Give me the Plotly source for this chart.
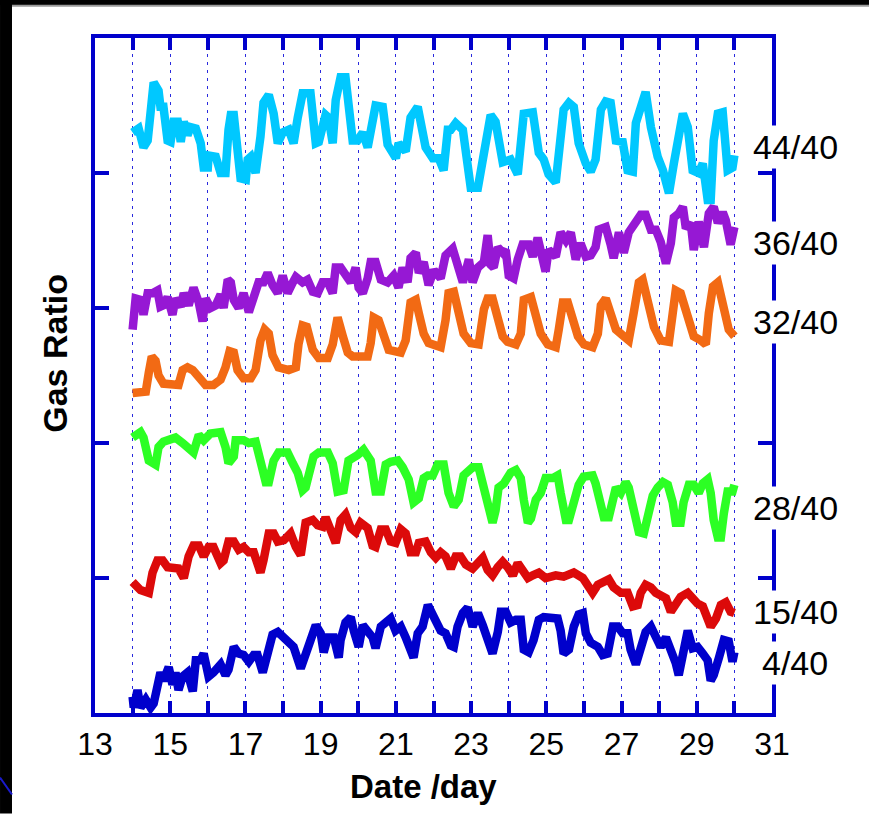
import plotly.graph_objects as go

# ---- data (day, gas ratio offset units) ----
cyan_44 = [(14.00,4.30),(14.16,4.33),(14.29,4.19),(14.40,4.24),(14.56,4.67),(14.69,4.61),(14.74,4.49),(14.82,4.49),(14.93,4.24),(15.01,4.23),(15.09,4.38),(15.20,4.38),(15.28,4.23),(15.36,4.38),(15.46,4.28),(15.54,4.34),(15.68,4.33),(15.81,4.22),(15.89,4.04),(16.00,4.04),(16.02,4.13),(16.21,4.12),(16.34,4.00),(16.47,4.00),(16.55,4.32),(16.61,4.43),(16.69,4.43),(16.79,4.12),(16.87,3.96),(17.01,3.95),(17.06,4.10),(17.14,4.12),(17.27,4.00),(17.40,4.27),(17.48,4.52),(17.62,4.58),(17.75,4.44),(17.86,4.22),(17.99,4.30),(18.15,4.32),(18.28,4.22),(18.39,4.41),(18.52,4.59),(18.73,4.59),(18.87,4.22),(18.95,4.23),(19.13,4.43),(19.21,4.41),(19.32,4.22),(19.40,4.54),(19.53,4.71),(19.66,4.71),(19.74,4.47),(19.85,4.24),(19.98,4.24),(20.12,4.30),(20.25,4.19),(20.38,4.41),(20.46,4.50),(20.65,4.49),(20.78,4.21),(21.00,4.11),(21.07,4.22),(21.26,4.16),(21.39,4.41),(21.58,4.49),(21.66,4.39),(21.79,4.19),(21.98,4.11),(22.14,4.11),(22.27,4.02),(22.38,4.32),(22.46,4.32),(22.59,4.37),(22.78,4.32),(22.91,4.04),(22.99,3.89),(23.18,3.89),(23.31,4.12),(23.52,4.43),(23.65,4.38),(23.84,4.08),(24.05,4.10),(24.24,3.99),(24.40,4.44),(24.64,4.45),(24.80,4.15),(24.93,4.10),(25.06,3.99),(25.25,3.93),(25.46,4.47),(25.60,4.52),(25.73,4.49),(25.86,4.22),(26.05,4.07),(26.18,4.01),(26.31,4.10),(26.45,4.47),(26.58,4.53),(26.71,4.52),(26.85,4.24),(27.03,4.23),(27.16,4.02),(27.30,4.01),(27.38,4.37),(27.51,4.47),(27.64,4.60),(27.78,4.34),(27.96,4.12),(28.10,4.02),(28.26,3.85),(28.39,4.07),(28.49,4.27),(28.63,4.44),(28.76,4.34),(28.89,4.02),(29.05,4.00),(29.16,4.07),(29.29,3.80),(29.37,3.80),(29.45,4.24),(29.56,4.44),(29.69,4.45),(29.82,4.02),(29.95,4.04),(30.00,4.13)]

purple_36 = [(14.00,2.84),(14.08,3.07),(14.21,3.06),(14.29,2.95),(14.40,3.11),(14.53,3.11),(14.66,3.13),(14.74,3.01),(14.82,3.02),(14.93,3.08),(15.06,2.95),(15.14,3.07),(15.28,3.01),(15.36,3.11),(15.49,3.02),(15.62,3.15),(15.76,3.04),(15.86,2.90),(15.94,3.07),(16.07,3.00),(16.21,3.02),(16.34,3.10),(16.42,3.00),(16.53,3.21),(16.61,3.19),(16.69,3.06),(16.82,3.00),(16.95,3.11),(17.09,2.97),(17.22,3.06),(17.35,3.19),(17.48,3.19),(17.59,3.26),(17.72,3.17),(17.86,3.11),(17.99,3.24),(18.12,3.11),(18.26,3.19),(18.34,3.23),(18.52,3.19),(18.65,3.21),(18.79,3.12),(18.92,3.11),(19.05,3.19),(19.19,3.19),(19.32,3.11),(19.40,3.30),(19.53,3.30),(19.72,3.23),(19.80,3.19),(19.93,3.30),(20.01,3.15),(20.12,3.11),(20.25,3.22),(20.33,3.34),(20.46,3.34),(20.60,3.21),(20.78,3.19),(20.94,3.24),(21.07,3.15),(21.18,3.30),(21.31,3.19),(21.39,3.37),(21.53,3.41),(21.61,3.26),(21.74,3.34),(21.87,3.17),(22.01,3.28),(22.19,3.22),(22.32,3.39),(22.51,3.44),(22.64,3.33),(22.78,3.19),(22.94,3.36),(23.04,3.19),(23.18,3.30),(23.34,3.34),(23.44,3.54),(23.52,3.32),(23.60,3.30),(23.71,3.45),(23.84,3.41),(23.92,3.43),(24.00,3.24),(24.13,3.22),(24.24,3.36),(24.37,3.47),(24.53,3.47),(24.64,3.38),(24.77,3.52),(24.85,3.39),(24.98,3.27),(25.06,3.43),(25.25,3.38),(25.38,3.56),(25.52,3.50),(25.65,3.56),(25.78,3.36),(25.91,3.48),(26.05,3.38),(26.18,3.39),(26.31,3.45),(26.39,3.58),(26.58,3.60),(26.71,3.47),(26.79,3.37),(26.93,3.56),(27.06,3.41),(27.19,3.56),(27.38,3.65),(27.51,3.69),(27.64,3.69),(27.78,3.58),(27.91,3.58),(28.04,3.49),(28.18,3.33),(28.31,3.48),(28.39,3.67),(28.52,3.70),(28.63,3.75),(28.71,3.59),(28.84,3.63),(28.92,3.43),(29.05,3.64),(29.19,3.45),(29.32,3.70),(29.45,3.75),(29.56,3.63),(29.69,3.71),(29.77,3.65),(29.90,3.47),(30.00,3.60)]

orange_32 = [(14.00,2.37),(14.35,2.38),(14.43,2.52),(14.51,2.64),(14.61,2.61),(14.69,2.50),(14.82,2.44),(15.01,2.43),(15.22,2.43),(15.33,2.54),(15.46,2.56),(15.60,2.54),(15.76,2.49),(15.94,2.43),(16.15,2.43),(16.34,2.47),(16.47,2.56),(16.58,2.68),(16.69,2.67),(16.79,2.54),(16.95,2.48),(17.14,2.48),(17.27,2.54),(17.40,2.76),(17.51,2.84),(17.62,2.81),(17.72,2.65),(17.88,2.56),(18.15,2.54),(18.34,2.56),(18.41,2.73),(18.52,2.87),(18.63,2.86),(18.79,2.69),(18.95,2.63),(19.19,2.63),(19.32,2.73),(19.45,2.93),(19.59,2.79),(19.72,2.67),(19.85,2.64),(20.25,2.64),(20.33,2.74),(20.41,2.93),(20.54,2.91),(20.68,2.79),(20.81,2.69),(21.13,2.67),(21.26,2.76),(21.39,3.04),(21.53,3.06),(21.61,2.96),(21.74,2.81),(21.87,2.74),(22.19,2.71),(22.32,2.91),(22.40,3.11),(22.54,3.12),(22.67,2.96),(22.80,2.81),(22.99,2.74),(23.20,2.73),(23.34,2.99),(23.44,3.07),(23.57,3.07),(23.71,2.93),(23.84,2.79),(23.97,2.75),(24.19,2.73),(24.32,2.81),(24.40,3.06),(24.59,3.08),(24.72,2.93),(24.85,2.81),(25.04,2.73),(25.25,2.71),(25.33,2.84),(25.44,3.04),(25.57,3.04),(25.70,2.91),(25.84,2.79),(26.00,2.73),(26.23,2.71),(26.37,2.81),(26.45,3.02),(26.58,3.07),(26.71,2.93),(26.85,2.84),(27.06,2.79),(27.19,2.76),(27.32,2.96),(27.46,3.19),(27.56,3.21),(27.70,3.06),(27.86,2.86),(28.04,2.76),(28.26,2.75),(28.36,2.96),(28.44,3.13),(28.57,3.11),(28.76,2.91),(28.92,2.79),(29.11,2.76),(29.24,2.73),(29.32,2.96),(29.43,3.16),(29.56,3.19),(29.69,3.01),(29.85,2.84),(30.00,2.79)]

green_28 = [(14.00,2.04),(14.21,2.08),(14.29,2.04),(14.43,1.87),(14.61,1.84),(14.69,1.97),(14.82,2.01),(15.01,2.02),(15.14,2.04),(15.33,2.00),(15.49,1.97),(15.62,1.93),(15.76,2.06),(15.89,2.02),(16.07,2.07),(16.34,2.08),(16.47,1.97),(16.55,1.85),(16.69,1.90),(16.74,2.02),(16.95,2.02),(17.09,2.00),(17.27,2.01),(17.40,1.87),(17.54,1.71),(17.62,1.71),(17.75,1.87),(17.88,1.93),(18.12,1.93),(18.26,1.85),(18.39,1.78),(18.52,1.65),(18.60,1.67),(18.68,1.76),(18.81,1.90),(18.95,1.93),(19.19,1.93),(19.32,1.85),(19.45,1.64),(19.61,1.65),(19.74,1.87),(19.98,1.91),(20.14,1.95),(20.33,1.87),(20.46,1.64),(20.60,1.64),(20.73,1.84),(20.86,1.86),(21.05,1.87),(21.18,1.82),(21.34,1.73),(21.47,1.56),(21.61,1.59),(21.74,1.74),(21.85,1.76),(21.98,1.76),(22.11,1.84),(22.27,1.84),(22.40,1.63),(22.54,1.53),(22.67,1.58),(22.80,1.76),(22.94,1.80),(23.04,1.82),(23.20,1.82),(23.34,1.67),(23.47,1.53),(23.57,1.41),(23.65,1.50),(23.73,1.67),(23.87,1.70),(24.05,1.78),(24.19,1.80),(24.32,1.74),(24.40,1.58),(24.51,1.41),(24.59,1.44),(24.72,1.58),(24.85,1.63),(24.98,1.74),(25.17,1.74),(25.30,1.76),(25.38,1.63),(25.52,1.43),(25.60,1.43),(25.73,1.58),(25.86,1.69),(25.99,1.75),(26.23,1.76),(26.31,1.70),(26.45,1.53),(26.53,1.45),(26.66,1.45),(26.77,1.63),(26.85,1.67),(26.98,1.63),(27.11,1.71),(27.19,1.67),(27.32,1.50),(27.46,1.34),(27.59,1.33),(27.70,1.45),(27.83,1.61),(27.96,1.67),(28.10,1.71),(28.23,1.69),(28.36,1.56),(28.44,1.41),(28.57,1.41),(28.65,1.56),(28.79,1.69),(28.92,1.69),(29.05,1.63),(29.16,1.70),(29.29,1.73),(29.37,1.63),(29.45,1.43),(29.56,1.30),(29.64,1.30),(29.72,1.48),(29.82,1.64),(29.95,1.64),(30.00,1.69)]

red_15 = [(14.00,0.97),(14.21,0.91),(14.43,0.89),(14.53,1.04),(14.66,1.13),(14.80,1.13),(14.93,1.08),(15.09,1.08),(15.22,1.07),(15.36,1.00),(15.49,1.16),(15.62,1.24),(15.76,1.24),(15.89,1.16),(16.02,1.23),(16.15,1.23),(16.34,1.11),(16.42,1.13),(16.55,1.27),(16.69,1.27),(16.82,1.21),(16.95,1.23),(17.09,1.19),(17.22,1.19),(17.40,1.04),(17.48,1.13),(17.62,1.33),(17.75,1.33),(17.86,1.27),(18.02,1.28),(18.20,1.33),(18.34,1.23),(18.47,1.17),(18.60,1.41),(18.79,1.43),(18.92,1.39),(19.05,1.38),(19.13,1.45),(19.27,1.33),(19.40,1.26),(19.53,1.43),(19.66,1.47),(19.80,1.37),(19.93,1.34),(20.06,1.41),(20.25,1.37),(20.38,1.24),(20.46,1.23),(20.60,1.36),(20.73,1.36),(20.86,1.27),(20.99,1.26),(21.13,1.36),(21.26,1.33),(21.39,1.19),(21.53,1.19),(21.61,1.26),(21.79,1.27),(21.93,1.19),(22.06,1.15),(22.19,1.19),(22.32,1.16),(22.46,1.07),(22.59,1.16),(22.72,1.16),(22.86,1.10),(23.04,1.07),(23.18,1.11),(23.31,1.15),(23.44,1.06),(23.57,1.02),(23.71,1.08),(23.84,1.12),(23.97,1.08),(24.11,1.02),(24.24,1.11),(24.37,1.06),(24.51,1.00),(24.64,1.02),(24.80,1.04),(24.98,1.00),(25.25,1.02),(25.46,1.01),(25.73,1.04),(25.97,1.00),(26.10,0.93),(26.23,0.89),(26.37,0.95),(26.50,0.97),(26.66,0.99),(26.79,0.93),(26.98,0.89),(27.16,0.89),(27.30,0.79),(27.43,0.80),(27.51,0.89),(27.64,0.95),(27.78,0.93),(27.91,0.89),(28.04,0.87),(28.18,0.85),(28.31,0.75),(28.44,0.81),(28.57,0.86),(28.76,0.89),(28.89,0.84),(29.02,0.81),(29.16,0.79),(29.29,0.71),(29.37,0.64),(29.51,0.70),(29.64,0.80),(29.77,0.82),(29.90,0.75),(30.00,0.74)]

blue_4 = [(14.00,0.12),(14.03,0.04),(14.13,0.17),(14.21,0.04),(14.35,0.10),(14.48,0.04),(14.56,0.07),(14.66,0.24),(14.74,0.30),(14.82,0.24),(14.96,0.34),(15.06,0.21),(15.14,0.30),(15.22,0.17),(15.33,0.27),(15.46,0.30),(15.60,0.16),(15.68,0.39),(15.81,0.39),(15.89,0.44),(16.02,0.27),(16.15,0.30),(16.34,0.36),(16.47,0.28),(16.55,0.32),(16.69,0.49),(16.82,0.44),(16.95,0.43),(17.09,0.38),(17.22,0.43),(17.32,0.43),(17.46,0.30),(17.59,0.44),(17.72,0.58),(17.86,0.60),(17.99,0.56),(18.12,0.54),(18.28,0.49),(18.47,0.33),(18.60,0.44),(18.73,0.56),(18.87,0.65),(19.00,0.59),(19.08,0.45),(19.19,0.56),(19.35,0.56),(19.48,0.41),(19.53,0.54),(19.66,0.67),(19.80,0.71),(19.88,0.61),(20.01,0.49),(20.12,0.65),(20.25,0.60),(20.38,0.56),(20.46,0.48),(20.60,0.64),(20.73,0.67),(20.86,0.70),(20.99,0.61),(21.13,0.64),(21.26,0.56),(21.39,0.44),(21.47,0.41),(21.58,0.59),(21.71,0.64),(21.85,0.80),(21.93,0.76),(22.06,0.69),(22.19,0.61),(22.32,0.59),(22.46,0.50),(22.54,0.49),(22.64,0.64),(22.78,0.74),(22.91,0.78),(23.04,0.64),(23.18,0.74),(23.31,0.65),(23.44,0.54),(23.57,0.44),(23.71,0.60),(23.79,0.75),(23.92,0.75),(24.05,0.67),(24.19,0.69),(24.32,0.69),(24.40,0.47),(24.53,0.45),(24.66,0.54),(24.80,0.69),(24.93,0.71),(25.06,0.71),(25.30,0.70),(25.38,0.61),(25.46,0.44),(25.60,0.47),(25.73,0.64),(25.86,0.73),(25.97,0.74),(26.05,0.59),(26.18,0.52),(26.37,0.49),(26.50,0.43),(26.63,0.44),(26.77,0.64),(26.90,0.64),(27.03,0.59),(27.16,0.59),(27.24,0.47),(27.38,0.36),(27.51,0.47),(27.64,0.60),(27.78,0.64),(27.91,0.56),(28.04,0.49),(28.18,0.56),(28.31,0.47),(28.44,0.37),(28.52,0.28),(28.63,0.47),(28.76,0.61),(28.89,0.48),(29.02,0.49),(29.16,0.44),(29.29,0.39),(29.37,0.24),(29.45,0.28),(29.59,0.41),(29.72,0.54),(29.85,0.53),(29.95,0.38),(30.00,0.45)]

series_names = ["44/40", "36/40", "32/40", "28/40", "15/40", "4/40"]
series_data = [cyan_44, purple_36, orange_32, green_28, red_15, blue_4]
series_colors = ["#00c8ff", "#9618d4", "#f26a14", "#2cff24", "#dc0a0a", "#0000cc"]
label_y = [4.19, 3.48, 2.90, 1.52, 0.75, 0.37]

x_ticks = list(range(13, 32))
x_ticktext = [str(d) if d % 2 == 1 else "" for d in x_ticks]
y_ticks = [1, 2, 3, 4]

AX = "#0000cc"
FONT = "Liberation Sans, Arial, sans-serif"

fig = go.Figure()
for name, pts, col in zip(series_names, series_data, series_colors):
    fig.add_trace(go.Scatter(
        x=[p[0] for p in pts], y=[p[1] for p in pts], mode="lines", name=name,
        line=dict(color=col, width=8.5), showlegend=False, hoverinfo="skip"))

annotations = []
for name, yv in zip(series_names, label_y):
    annotations.append(dict(
        text=name, xref="paper", x=1.0347, xanchor="center",
        yref="y", y=yv, yanchor="middle", showarrow=False,
        bgcolor="white", borderpad=2,
        font=dict(family=FONT, size=34, color="black")))
annotations.append(dict(
    text="<b>Date /day</b>", xref="paper", x=0.4845, xanchor="center",
    yref="paper", y=-0.1088, yanchor="middle", showarrow=False,
    font=dict(family=FONT, size=33, color="black")))
annotations.append(dict(
    text="<b>Gas Ratio</b>", xref="paper", x=-0.0591, xanchor="center",
    yref="paper", y=0.5337, yanchor="middle", showarrow=False, textangle=-90,
    font=dict(family=FONT, size=34, color="black")))

fig.update_layout(
    width=869, height=814,
    margin=dict(l=95, r=97, t=38, b=101),
    paper_bgcolor="white", plot_bgcolor="white",
    font=dict(family=FONT, size=32, color="black"),
    annotations=annotations,
    shapes=[
        dict(type="rect", xref="paper", yref="paper", x0=-0.1403, x1=1.1433,
             y0=1.0489, y1=1.0563, fillcolor="black", line=dict(width=0), layer="above"),
        dict(type="line", xref="paper", yref="paper", x0=-0.1403, x1=1.1433,
             y0=1.0478, y1=1.0478, line=dict(color="#9a9a9a", width=2), layer="above"),
        dict(type="rect", xref="paper", yref="paper", x0=-0.1403, x1=-0.1226,
             y0=-0.1488, y1=1.0563, fillcolor="black", line=dict(width=0), layer="above"),
        dict(type="line", xref="paper", yref="paper", x0=-0.1403, x1=-0.1226,
             y0=-0.0955, y1=-0.1207, line=dict(color="#1a1acc", width=2), layer="above"),
    ],
)
fig.update_xaxes(
    range=[13, 31], tickmode="array", tickvals=x_ticks, ticktext=x_ticktext,
    ticks="inside", ticklen=12, tickwidth=3.5, tickcolor=AX,
    showline=True, linecolor=AX, linewidth=4, mirror="ticks",
    showgrid=True, gridcolor="#2a2ade", griddash="3px,5px", gridwidth=1.4,
    zeroline=False, tickfont=dict(family=FONT, size=32, color="black"))
fig.update_yaxes(
    range=[0, 5], tickmode="array", tickvals=y_ticks, showticklabels=False,
    ticks="inside", ticklen=14, tickwidth=3.5, tickcolor=AX,
    showline=True, linecolor=AX, linewidth=4, mirror="ticks",
    showgrid=False, zeroline=False)

fig.write_html("out.html")
